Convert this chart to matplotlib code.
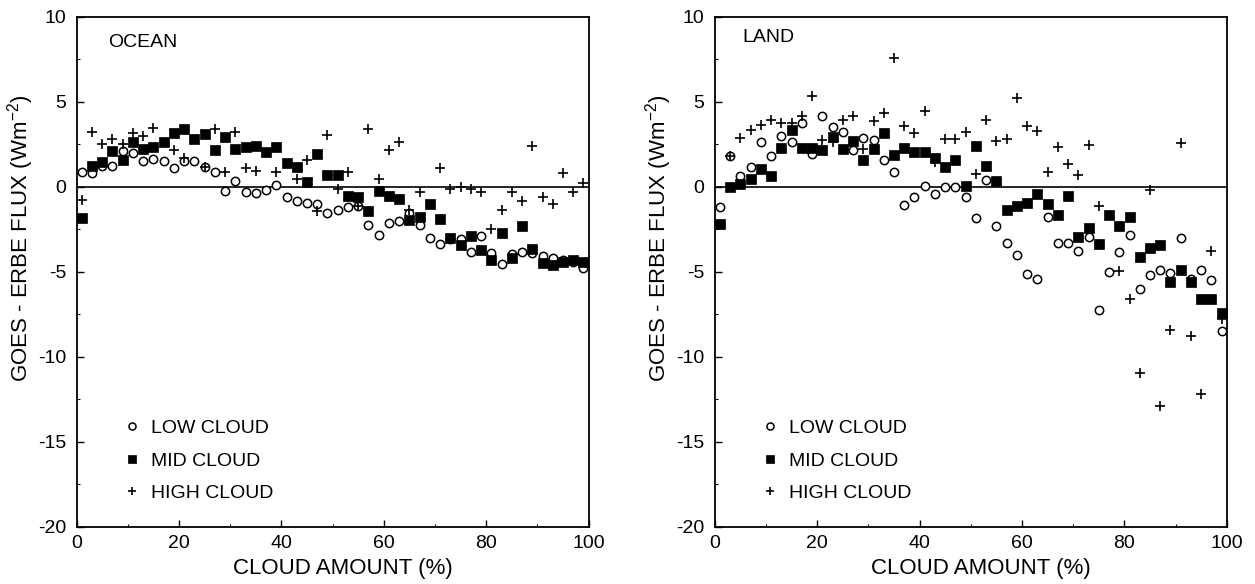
import numpy as np
import matplotlib
matplotlib.use("Agg")
import matplotlib.pyplot as plt
from matplotlib.ticker import MultipleLocator

plt.rcParams['font.family'] = ['Liberation Sans', 'DejaVu Sans']
plt.rcParams['mathtext.fontset'] = 'custom'
plt.rcParams['mathtext.rm'] = 'Liberation Sans'
plt.rcParams['mathtext.it'] = 'Liberation Sans'
plt.rcParams['mathtext.bf'] = 'Liberation Sans'
plt.rcParams['axes.unicode_minus'] = False

nan = np.nan

cloud_amount = [1, 3, 5, 7, 9, 11, 13, 15, 17, 19, 21, 23, 25, 27, 29, 31, 33, 35, 37, 39,
                41, 43, 45, 47, 49, 51, 53, 55, 57, 59, 61, 63, 65, 67, 69, 71, 73, 75, 77, 79,
                81, 83, 85, 87, 89, 91, 93, 95, 97, 99]

ocean_low = [0.85, 0.79, 1.2, 1.2, 2.09, 1.99, 1.5, 1.61, 1.54, 1.12,
             1.52, 1.5, 1.18, 0.89, -0.28, 0.31, -0.30, -0.39, -0.20, 0.10,
             -0.63, -0.83, -0.93, -1.02, -1.56, -1.38, -1.22, -1.12, -2.24, -2.85,
             -2.13, -2.00, -1.52, -2.24, -3.03, -3.39, -3.10, -3.09, -3.82, -2.89,
             -3.88, -4.57, -3.94, -3.84, -3.9, -4.1, -4.2, -4.3, -4.4, -4.8]
ocean_mid = [-1.85, 1.2, 1.44, 2.09, 1.57, 2.62, 2.19, 2.32, 2.64, 3.17,
             3.41, 2.81, 3.11, 2.13, 2.91, 2.22, 2.32, 2.38, 2.03, 2.32,
             1.4, 1.18, 0.30, 1.93, 0.71, 0.71, -0.53, -0.63, -1.42, -0.24,
             -0.53, -0.73, -1.97, -1.81, -1.02, -1.91, -3.03, -3.43, -2.89, -3.72,
             -4.31, -2.72, -4.17, -2.3, -3.64, -4.5, -4.6, -4.4, -4.3, -4.4]
ocean_high = [-0.77, 3.21, 2.52, 2.81, 2.52, 3.17, 3.01, 3.46, nan, 2.13,
              1.69, nan, 1.18, 3.41, 0.85, 3.21, 1.10, 0.94, nan, 0.85,
              nan, 0.45, 1.59, -1.42, 3.05, -0.14, 0.89, -1.12, 3.41, 0.45,
              2.13, 2.62, -1.38, -0.30, nan, 1.10, -0.14, 0.0, -0.14, -0.33,
              -2.5, -1.38, -0.33, -0.83, 2.42, -0.6, -1.0, 0.8, -0.3, 0.2]

land_low = [-1.22, 1.83, 0.65, 1.14, 2.62, 1.79, 3.01, 2.64, 3.74, 1.93,
            4.13, 3.50, 3.21, 2.13, 2.87, 2.72, 1.59, 0.89, -1.06, -0.63,
            0.06, -0.43, 0.0, 0.0, -0.63, -1.85, 0.39, -2.34, -3.33, -4.02,
            -5.16, -5.45, -1.81, -3.33, -3.29, -3.78, -2.93, -7.23, -5.02, -3.84,
            -2.84, -6.04, -5.2, -4.9, -5.1, -3.0, -5.4, -4.9, -5.5, -8.5]
land_mid = [-2.2, 0.0, 0.16, 0.45, 1.04, 0.61, 2.28, 3.31, 2.28, 2.28,
            2.13, 2.91, 2.22, 2.68, 1.59, 2.22, 3.15, 1.89, 2.28, 2.03,
            2.03, 1.69, 1.18, 1.59, 0.06, 2.38, 1.24, 0.35, -1.36, -1.12,
            -0.93, -0.43, -1.02, -1.65, -0.53, -2.93, -2.4, -3.35, -1.65, -2.34,
            -1.81, -4.15, -3.6, -3.4, -5.6, -4.9, -5.6, -6.6, -6.6, -7.4]
land_high = [nan, 1.83, 2.87, 3.31, 3.64, 3.94, 3.74, 3.74, 4.13, 5.32,
             2.72, 2.64, 3.94, 4.13, 2.22, 3.86, 4.33, 7.6, 3.6, 3.17,
             4.43, 1.44, 2.78, 2.78, 3.21, 0.75, 3.9, 2.68, 2.78, 5.24,
             3.6, 3.27, 0.89, 2.36, 1.34, 0.71, 2.48, -1.12, nan, -4.96,
             -6.58, -10.97, -0.2, -12.9, -8.4, 2.6, -8.8, -12.2, -3.8, -7.8]

series_labels = ['LOW CLOUD', 'MID CLOUD', 'HIGH CLOUD']
panel_names = ['OCEAN', 'LAND']
x_ticks = [0, 20, 40, 60, 80, 100]
y_ticks = [-20, -15, -10, -5, 0, 5, 10]

W, H = 1255, 584
fig = plt.figure(figsize=(W / 100, H / 100), dpi=100)

ax_w = 512 / W
ax_h = 510 / H
ax_b = (H - 526.7) / H
axes = [fig.add_axes([76.6 / W, ax_b, ax_w, ax_h]),
        fig.add_axes([714.8 / W, ax_b, ax_w, ax_h])]

data = [(ocean_low, ocean_mid, ocean_high), (land_low, land_mid, land_high)]
name_pos = [(0.061, 0.950), (0.053, 0.960)]

for ax, (low, mid, high), name, npos in zip(axes, data, panel_names, name_pos):
    ax.axhline(0, color='black', lw=1.2, zorder=1)
    h1, = ax.plot(cloud_amount, low, linestyle='none', marker='o', ms=6.0,
                  mfc='white', mec='black', mew=1.1, label=series_labels[0], zorder=3)
    h2, = ax.plot(cloud_amount, mid, linestyle='none', marker='s', ms=6.6,
                  mfc='black', mec='black', mew=0.5, label=series_labels[1], zorder=3)
    h3, = ax.plot(cloud_amount, high, linestyle='none', marker='+', ms=7.3,
                  color='black', mew=1.2, label=series_labels[2], zorder=4)
    ax.set_xlim(0, 100)
    ax.set_ylim(-20, 10)
    ax.set_xticks(x_ticks)
    ax.set_yticks(y_ticks)
    ax.xaxis.set_minor_locator(MultipleLocator(10))
    ax.yaxis.set_minor_locator(MultipleLocator(2.5))
    ax.tick_params(axis='both', which='major', direction='in', length=5, width=1.0,
                   labelsize=14, top=False, right=False)
    ax.tick_params(axis='x', which='major', pad=6)
    ax.tick_params(axis='y', which='major', pad=7.5)
    ax.tick_params(axis='both', which='minor', direction='in', length=2.5, width=0.8,
                   top=False, right=False)
    for sp in ax.spines.values():
        sp.set_linewidth(1.3)
    ax.set_xlabel('CLOUD AMOUNT (%)', fontsize=16)
    ax.xaxis.set_label_coords(0.52, -0.0605)
    ax.set_ylabel('GOES - ERBE FLUX (Wm$^{-2}$)', fontsize=16)
    ax.yaxis.set_label_coords(-0.079, 0.566)
    ax.text(npos[0], npos[1], name, transform=ax.transAxes, fontsize=14,
            ha='left', va='center')
    ax.legend(handles=[h1, h2, h3], loc='lower left',
              bbox_to_anchor=(0.093, 0.048), frameon=False, fontsize=14,
              handlelength=0.8, handletextpad=0.58, labelspacing=0.77,
              borderpad=0, borderaxespad=0, markerscale=0.85)

fig.savefig('out.png', dpi=100)
